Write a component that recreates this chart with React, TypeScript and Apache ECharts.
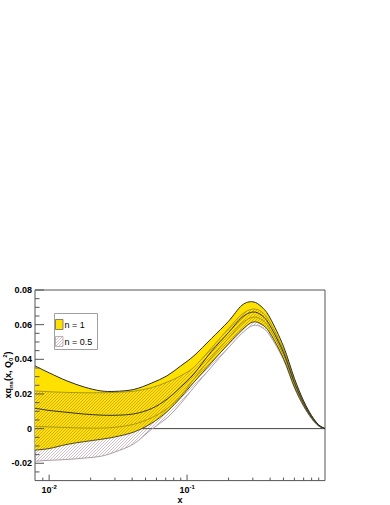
import React, { useEffect, useRef } from 'react';
import * as echarts from 'echarts';

// x positions (log scale) where the curves were read
const xs = [0.0079, 0.01, 0.0135, 0.018, 0.0236, 0.03, 0.0411, 0.055, 0.0716, 0.09, 0.112, 0.15, 0.2, 0.25, 0.3, 0.35, 0.4, 0.5, 0.6, 0.7, 0.8, 0.9, 1.0];

// n = 1 band (solid yellow)
const n1Upper = [0.0362, 0.0322, 0.0275, 0.0240, 0.0218, 0.0215, 0.0226, 0.0262, 0.0305, 0.0362, 0.0420, 0.0520, 0.0620, 0.0712, 0.0732, 0.0700, 0.0638, 0.0475, 0.0290, 0.0160, 0.0075, 0.0022, 0];
const n1Lower = [-0.0124, -0.0115, -0.0091, -0.0075, -0.0062, -0.0048, -0.0020, 0.0030, 0.0098, 0.0180, 0.0267, 0.0380, 0.0490, 0.0570, 0.0615, 0.0600, 0.0550, 0.0405, 0.0240, 0.0132, 0.0060, 0.0016, 0];
const n1Central = [0.0118, 0.0105, 0.0094, 0.0084, 0.0078, 0.0077, 0.0085, 0.0115, 0.0170, 0.0240, 0.0315, 0.0445, 0.0555, 0.0642, 0.0673, 0.0652, 0.0593, 0.0440, 0.0265, 0.0146, 0.0068, 0.0019, 0];

// n = 0.5 band (hatched)
const n05Upper = [0.0217, 0.0213, 0.0209, 0.0207, 0.0207, 0.0209, 0.0216, 0.0236, 0.0268, 0.0305, 0.0354, 0.0465, 0.0578, 0.0660, 0.0690, 0.0672, 0.0612, 0.0455, 0.0278, 0.0153, 0.0071, 0.0021, 0];
const n05Lower = [-0.0188, -0.0183, -0.0178, -0.0170, -0.0160, -0.0135, -0.0088, -0.0005, 0.0062, 0.0145, 0.0238, 0.0355, 0.0468, 0.0550, 0.0595, 0.0583, 0.0535, 0.0398, 0.0236, 0.0128, 0.0057, 0.0015, 0];
const n05Central = [0.0013, 0.0010, 0.0006, 0.0003, 0.0003, 0.0008, 0.0025, 0.0062, 0.0115, 0.0190, 0.0286, 0.0410, 0.0522, 0.0608, 0.0643, 0.0628, 0.0572, 0.0428, 0.0258, 0.0142, 0.0066, 0.0019, 0];

// ticks and labels
const xLabelValues = [0.01, 0.1];
const xLabelExponents = ['-2', '-1'];
const xMajorTicks = [0.01, 0.1];
const xMinorTicks = [0.009, 0.02, 0.03, 0.04, 0.05, 0.06, 0.07, 0.08, 0.09, 0.2, 0.3, 0.4, 0.5, 0.6, 0.7, 0.8, 0.9];
const yMajorTicks = [-0.02, 0, 0.02, 0.04, 0.06, 0.08];
const yMinorTicks = [-0.025, -0.015, -0.01, -0.005, 0.005, 0.01, 0.015, 0.025, 0.03, 0.035, 0.045, 0.05, 0.055, 0.065, 0.07, 0.075];
const legendLabels = ['n = 1', 'n = 0.5'];
const yTitle = '{a|xq}{s|ns}{a|(x, Q}{s|0}{p|2}{a|)}';
const xTitle = 'x';

const X_MIN = 0.0079;
const X_MAX = 1;
const Y_MIN = -0.03;
const Y_MAX = 0.08;

const FONT = "'Liberation Sans', Arial, Helvetica, sans-serif";
const YELLOW = '#ffe100';

function segs(p: number[][]): string {
  let d = '';
  for (let i = 0; i < p.length - 1; i++) {
    const p0 = p[Math.max(i - 1, 0)];
    const p1 = p[i];
    const p2 = p[i + 1];
    const p3 = p[Math.min(i + 2, p.length - 1)];
    const c1x = p1[0] + (p2[0] - p0[0]) / 6;
    const c1y = p1[1] + (p2[1] - p0[1]) / 6;
    const c2x = p2[0] - (p3[0] - p1[0]) / 6;
    const c2y = p2[1] - (p3[1] - p1[1]) / 6;
    d += ` C ${c1x} ${c1y} ${c2x} ${c2y} ${p2[0]} ${p2[1]}`;
  }
  return d;
}

function makeHatch(): HTMLCanvasElement {
  const c = document.createElement('canvas');
  c.width = 3;
  c.height = 3;
  const g = c.getContext('2d')!;
  g.clearRect(0, 0, 3, 3);
  g.fillStyle = 'rgba(130, 80, 95, 0.36)';
  for (let i = 0; i < 3; i++) g.fillRect(i, 2 - i, 1, 1);
  return c;
}

export default function App() {
  const ref = useRef<HTMLDivElement>(null);

  useEffect(() => {
    if (!ref.current) return;
    const chart = echarts.init(ref.current, undefined, { renderer: 'svg' });
    const hatch = { image: makeHatch(), repeat: 'repeat' } as any;

    const band = (upper: number[], lower: number[], fill: any) => (_p: any, api: any) => {
      const u = xs.map((x, i) => api.coord([x, upper[i]]));
      const l = xs.map((x, i) => api.coord([x, lower[i]])).reverse();
      const d = `M ${u[0][0]} ${u[0][1]}` + segs(u) + ` L ${l[0][0]} ${l[0][1]}` + segs(l) + ' Z';
      return { type: 'path', shape: { pathData: d }, style: { fill, stroke: null } };
    };
    const curve = (vals: number[], stroke: string, lineWidth: number) => (_p: any, api: any) => {
      const p = xs.map((x, i) => api.coord([x, vals[i]]));
      const d = `M ${p[0][0]} ${p[0][1]}` + segs(p);
      return { type: 'path', shape: { pathData: d }, style: { fill: null, stroke, lineWidth } };
    };
    const custom = (name: string, renderItem: any) => ({
      type: 'custom',
      name,
      data: [[X_MIN, 0]],
      renderItem,
      clip: true,
      silent: true,
    });

    const zeroLine = (_p: any, api: any) => {
      const a = api.coord([X_MIN, 0]);
      const b = api.coord([X_MAX, 0]);
      return { type: 'line', shape: { x1: a[0], y1: a[1], x2: b[0], y2: b[1] }, style: { stroke: '#444', lineWidth: 1 } };
    };

    const ticks = (_p: any, api: any) => {
      const children: any[] = [];
      const st = { stroke: '#555', lineWidth: 1 };
      yMajorTicks.forEach((v) => {
        const p = api.coord([X_MIN, v]);
        children.push({ type: 'line', shape: { x1: p[0], y1: p[1], x2: p[0] + 9, y2: p[1] }, style: st });
      });
      yMinorTicks.forEach((v) => {
        const p = api.coord([X_MIN, v]);
        children.push({ type: 'line', shape: { x1: p[0], y1: p[1], x2: p[0] + 4.5, y2: p[1] }, style: st });
      });
      xMajorTicks.forEach((v) => {
        const p = api.coord([v, Y_MIN]);
        children.push({ type: 'line', shape: { x1: p[0], y1: p[1], x2: p[0], y2: p[1] - 6 }, style: st });
      });
      xMinorTicks.forEach((v) => {
        const p = api.coord([v, Y_MIN]);
        children.push({ type: 'line', shape: { x1: p[0], y1: p[1], x2: p[0], y2: p[1] - 3 }, style: st });
      });
      return { type: 'group', children };
    };

    const option: any = {
      animation: false,
      backgroundColor: '#fff',
      textStyle: { fontFamily: FONT },
      grid: { left: 35, top: 290, width: 290, height: 191, show: true, borderColor: '#555', borderWidth: 1, backgroundColor: 'transparent' },
      xAxis: {
        type: 'log',
        logBase: 10,
        min: X_MIN,
        max: X_MAX,
        axisLine: { show: false },
        axisTick: { show: false },
        splitLine: { show: false },
        axisLabel: {
          margin: 3,
          color: '#000',
          formatter: (v: number) => {
            const idx = xLabelValues.findIndex((t) => Math.abs(Math.log10(v) - Math.log10(t)) < 1e-6);
            return idx >= 0 ? `{b|10}{s|${xLabelExponents[idx]}}` : '';
          },
          rich: {
            b: { fontSize: 9, fontWeight: 'bold', fontFamily: FONT, color: '#000', lineHeight: 12 },
            s: { fontSize: 6, fontWeight: 'bold', fontFamily: FONT, color: '#000', lineHeight: 7, verticalAlign: 'top' },
          },
        },
        name: xTitle,
        nameLocation: 'middle',
        nameGap: 8,
        nameTextStyle: { fontSize: 9, fontWeight: 'bold', color: '#000', fontFamily: FONT },
      },
      yAxis: {
        type: 'value',
        min: Y_MIN,
        max: Y_MAX,
        interval: 0.01,
        axisLine: { show: false },
        axisTick: { show: false },
        splitLine: { show: false },
        axisLabel: {
          margin: 3,
          fontSize: 9,
          fontWeight: 'bold',
          color: '#000',
          fontFamily: FONT,
          formatter: (v: number) => {
            const r = Math.round(v * 100);
            if (r % 2 !== 0) return '';
            return r === 0 ? '0' : (r / 100).toFixed(2);
          },
        },
      },
      graphic: [
        {
          type: 'text',
          x: 8,
          y: 375,
          rotation: Math.PI / 2,
          style: {
            text: yTitle,
            align: 'center',
            verticalAlign: 'middle',
            textAlign: 'center',
            textVerticalAlign: 'middle',
            fill: '#000',
            rich: {
              a: { fontSize: 9, fontWeight: 'bold', fontFamily: FONT, fill: '#000', lineHeight: 12 },
              s: { fontSize: 6, fontWeight: 'bold', fontFamily: FONT, fill: '#000', lineHeight: 7, verticalAlign: 'bottom' },
              p: { fontSize: 6, fontWeight: 'bold', fontFamily: FONT, fill: '#000', lineHeight: 7, verticalAlign: 'top' },
            },
          },
        },
        { type: 'rect', shape: { x: 54.5, y: 313.5, width: 43, height: 36 }, style: { fill: '#fff', stroke: '#a0a0a0', lineWidth: 1 } },
        { type: 'rect', shape: { x: 55.5, y: 319.5, width: 7.5, height: 10 }, style: { fill: YELLOW, stroke: '#666', lineWidth: 0.8 } },
        { type: 'rect', shape: { x: 55.5, y: 336.5, width: 7.5, height: 10 }, style: { fill: hatch, stroke: '#b0a0a8', lineWidth: 0.8 } },
        { type: 'text', x: 64.5, y: 325, style: { text: legendLabels[0], fontSize: 9, fontFamily: FONT, fill: '#000', verticalAlign: 'middle', textVerticalAlign: 'middle' } },
        { type: 'text', x: 64.5, y: 342, style: { text: legendLabels[1], fontSize: 9, fontFamily: FONT, fill: '#000', verticalAlign: 'middle', textVerticalAlign: 'middle' } },
      ],
      series: [
        custom('zero', zeroLine),
        custom('n = 1', band(n1Upper, n1Lower, YELLOW)),
        custom('n = 0.5', band(n05Upper, n05Lower, hatch)),
        custom('n05Lower', curve(n05Lower, '#ad9aa4', 1)),
        custom('n05Upper', curve(n05Upper, '#a8961c', 1)),
        custom('n05Central', curve(n05Central, '#a8961c', 1)),
        custom('n1Lower', curve(n1Lower, '#4d4820', 1)),
        custom('n1Central', curve(n1Central, '#333333', 1)),
        custom('n1Upper', curve(n1Upper, '#2a2a2a', 1)),
        { ...custom('ticks', ticks), clip: false },
      ],
    };
    chart.setOption(option);
    return () => chart.dispose();
  }, []);

  return <div ref={ref} style={{ position: 'fixed', left: 0, top: 0, width: 390, height: 505 }} />;
}
